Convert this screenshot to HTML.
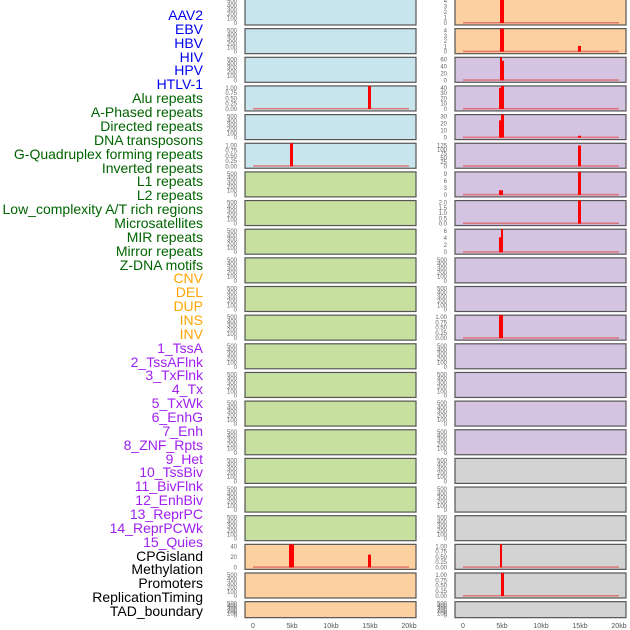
<!DOCTYPE html>
<html><head><meta charset="utf-8"><style>
html,body{margin:0;padding:0;background:#fff;width:630px;height:630px;overflow:hidden}
#labels{position:absolute;left:0;top:0;width:203px;font-family:"Liberation Sans",sans-serif;font-size:14px;text-align:right}
#labels div{position:absolute;right:0;white-space:nowrap;line-height:14px}
svg{position:absolute;left:0;top:0}
</style></head><body>
<div id="labels"></div>
<svg id="s" width="630" height="630" font-family="Liberation Sans, sans-serif"></svg>
<script>
var L=[["AAV2","#0000ee"],["EBV","#0000ee"],["HBV","#0000ee"],["HIV","#0000ee"],["HPV","#0000ee"],["HTLV-1","#0000ee"],
["Alu repeats","#006400"],["A-Phased repeats","#006400"],["Directed repeats","#006400"],["DNA transposons","#006400"],["G-Quadruplex forming repeats","#006400"],["Inverted repeats","#006400"],["L1 repeats","#006400"],["L2 repeats","#006400"],["Low_complexity A/T rich regions","#006400"],["Microsatellites","#006400"],["MIR repeats","#006400"],["Mirror repeats","#006400"],["Z-DNA motifs","#006400"],
["CNV","#ffa500"],["DEL","#ffa500"],["DUP","#ffa500"],["INS","#ffa500"],["INV","#ffa500"],
["1_TssA","#a020f0"],["2_TssAFlnk","#a020f0"],["3_TxFlnk","#a020f0"],["4_Tx","#a020f0"],["5_TxWk","#a020f0"],["6_EnhG","#a020f0"],["7_Enh","#a020f0"],["8_ZNF_Rpts","#a020f0"],["9_Het","#a020f0"],["10_TssBiv","#a020f0"],["11_BivFlnk","#a020f0"],["12_EnhBiv","#a020f0"],["13_ReprPC","#a020f0"],["14_ReprPCWk","#a020f0"],["15_Quies","#a020f0"],
["CPGisland","#000"],["Methylation","#000"],["Promoters","#000"],["ReplicationTiming","#000"],["TAD_boundary","#000"]];
var lh="";L.forEach(function(l,i){lh+='<div style="top:'+(8+i*13.86).toFixed(1)+'px;color:'+l[1]+'">'+l[0]+'</div>';});
document.getElementById("labels").innerHTML=lh;
var S="";
var BL="#c8e4ec",GR="#c7e0a0",OR="#fdd09f",PU="#d5c3e2",GY="#d3d3d3";
var D=["0","100","200","300","400","500"],P=["0.00","0.25","0.50","0.75","1.00"];
function colL(r){return r<6?BL:(r<19?GR:OR)}
function colR(r){return r<2?OR:(r<16?PU:GY)}
var tL={3:P,5:P,19:["0","20","40"]};
var tR={0:["0","1","2","3","4"],1:["0","1","2","3","4"],2:["0","20","40","60"],3:["0","10","20","30","40"],4:["0","10","20","30"],5:["0","25","50","75","100","125"],6:["0","3","6","9"],7:["0.0","0.5","1.0","1.5","2.0"],8:["0","2","4","6"],11:P,19:P,20:P};
var bL={3:[[368,3,1]],5:[[290,3,1]],19:[[289,5,1],[368,3,0.55]]};
var bR={0:[[500,4,1]],1:[[500,4,1],[578,3,0.25]],2:[[500,2,1],[502,2,0.85]],3:[[499,2,0.92],[501,3,1]],4:[[499,2,0.75],[501,3,1],[578,3,0.08]],5:[[578,3,0.9]],6:[[499,4,0.2],[578,3,1]],7:[[578,3,1]],8:[[499,2,0.65],[501,2,1]],11:[[499,4,1]],19:[[500,2,1]],20:[[501,3,1]]};
function panel(x0,r,col,ticks,bars){
 var y=r*28.65, h=(r==21?16:25);
 if(r==0){y=-1;h=26;}
 S+='<rect x="'+x0+'" y="'+y+'" width="171" height="'+h+'" fill="'+col+'" stroke="#555" stroke-width="1.2"/>';
 var t=ticks||D, n=t.length-1, y0=y+h-2, y1=y+2;
 t.forEach(function(s,i){var yy=y0-(y0-y1)*i/n;S+='<text x="'+(x0-8)+'" y="'+(yy+2)+'" font-size="6" fill="#666" text-anchor="end">'+s+'</text>';});
 if(bars){var base=x0+8;S+='<rect x="'+base+'" y="'+(y0-1)+'" width="156" height="1.5" fill="#e06060" opacity="0.8"/>';
  bars.forEach(function(b){var top=y0-(y0-y)*b[2];S+='<rect x="'+b[0]+'" y="'+top+'" width="'+b[1]+'" height="'+(y0-top)+'" fill="#ff0000"/>';});}
}
for(var r=0;r<22;r++){panel(245,r,colL(r),tL[r],bL[r]);panel(455,r,colR(r),tR[r],bR[r]);}
var xl=["0","5kb","10kb","15kb","20kb"];
[253,463].forEach(function(x0){xl.forEach(function(s,i){S+='<text x="'+(x0+i*39)+'" y="628" font-size="7" fill="#555" text-anchor="middle">'+s+'</text>';});});
document.getElementById("s").innerHTML=S;
</script>
</body></html>
